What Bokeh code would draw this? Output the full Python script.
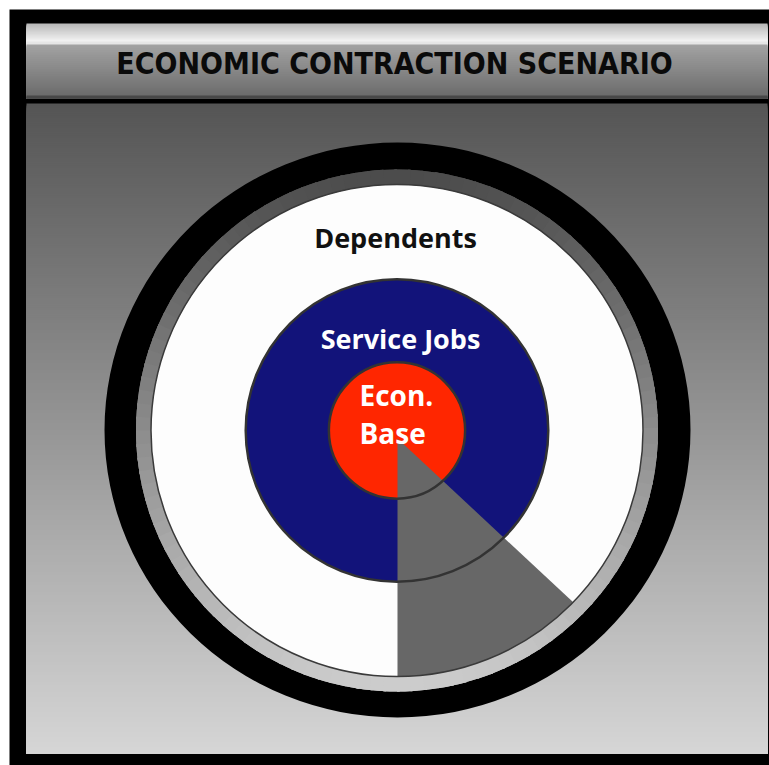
import numpy as np
from bokeh.plotting import figure
from bokeh.models import Range1d
from bokeh.core.properties import value
from bokeh.embed import file_html
from bokeh.resources import INLINE

# ---------------- data ----------------
title_text = "ECONOMIC CONTRACTION SCENARIO"
sectors = ["Dependents", "Service Jobs", "Econ. Base"]
sector_radius = [1.00, 0.615, 0.277]          # relative to the Dependents disk
sector_colors = ["#fdfdfd", "#12137a", "#ff2600"]
label_colors = ["#111111", "#ffffff", "#ffffff"]
contraction_start_deg = 270                   # straight down
contraction_end_deg = 317                     # 43 deg below horizontal (right)
contraction_color = "#676767"

# ---------------- layout (page pixel space) ----------------
W, H = 769, 765
p = figure(width=W, height=H, output_backend="svg", toolbar_location=None,
           x_range=Range1d(0, W), y_range=Range1d(H, 0),
           min_border=0, outline_line_color=None, background_fill_color="white",
           border_fill_color="white")
p.axis.visible = False
p.grid.visible = False

def grey(v):
    v = int(max(0, min(255, round(v))))
    return "#%02x%02x%02x" % (v, v, v)

# black frame
p.quad(left=9, right=800, top=9, bottom=800, fill_color="black", line_color=None)

# title bar gradient (stacked strips, each reaching the bar bottom)
ty = np.arange(23, 98, 1.0)
tcol = []
for y in ty:
    if y < 41:
        t = (y - 23) / 18.0
        tcol.append(grey(0xb8 + t * (0xf6 - 0xb8)))
    elif y < 44:
        tcol.append(grey(0xe6))
    elif y < 95:
        t = (y - 44) / 51.0
        tcol.append(grey(0xa2 + t * (0x6c - 0xa2)))
    else:
        tcol.append(grey(0x48))
p.quad(left=26, right=767, top=ty, bottom=98, fill_color=tcol, line_color=None)

# panel gradient (stacked strips)
py = np.arange(103, 753, 2.0)
pcol = [grey(0x55 + (y - 103) / 650.0 * (0xd6 - 0x55)) for y in py]
p.quad(left=26, right=767, top=py, bottom=753, fill_color=pcol, line_color=None)

# title
p.text(x=[394], y=[63], text=[title_text],
       text_font=value("DejaVu Sans Condensed, Liberation Sans Narrow, Roboto"),
       text_font_style="bold", text_font_size="30px", text_color="#0a0a0a",
       text_align="center", text_baseline="middle")

# ---------------- target rings ----------------
cx, cy = 396.5, 430.0
R = 246.0

# outer black ring
p.ellipse(x=[397], y=[429.5], width=586, height=575, fill_color="black", line_color=None)

# bevelled grey ring (dark at top, light at bottom)
n = 120
a0 = np.arange(n) * 360.0 / n
a1 = a0 + 360.0 / n
mid = np.deg2rad((a0 + a1) / 2)
vv = (1 - np.sin(mid)) / 2
rcol = [grey(0x4c + v * (0xcc - 0x4c)) for v in vv]
p.annular_wedge(x=cx, y=cy, inner_radius=R - 2, outer_radius=R + 15,
                start_angle=np.deg2rad(a0), end_angle=np.deg2rad(a1 + 0.6),
                fill_color=rcol, line_color=None)

# sector disks
for r, c in zip(sector_radius, sector_colors):
    p.circle(x=[cx], y=[cy], radius=R * r, fill_color=c, line_color=None)

# contraction wedge
p.wedge(x=[397], y=[438], radius=R + 6,
        start_angle=[np.deg2rad(contraction_start_deg)],
        end_angle=[np.deg2rad(contraction_end_deg)],
        fill_color=contraction_color, line_color=None)

# re-cover overflow of the wedge with the ring
p.annular_wedge(x=cx, y=cy, inner_radius=R, outer_radius=R + 15,
                start_angle=np.deg2rad(a0), end_angle=np.deg2rad(a1 + 0.6),
                fill_color=rcol, line_color=None)

# outlines
p.circle(x=[cx], y=[cy], radius=R, fill_color=None, line_color="#3a3a3a", line_width=1.5)
for r in sector_radius[1:]:
    p.circle(x=[cx], y=[cy], radius=R * r, fill_color=None, line_color="#333333", line_width=2.5)

# labels
font = value("Open Sans")
p.text(x=[395], y=[237], text=[sectors[0]], text_font=font, text_font_style="bold",
       text_font_size="27px", text_color=label_colors[0], text_align="center",
       text_baseline="alphabetic")
p.text(x=[400], y=[338], text=[sectors[1]], text_font=font, text_font_style="bold",
       text_font_size="27px", text_color=label_colors[1], text_align="center",
       text_baseline="alphabetic")
econ_lines = sectors[2].split(" ")
p.text(x=[359, 359], y=[394, 432], text=econ_lines, text_font=font, text_font_style="bold",
       text_font_size="28px", text_color=label_colors[2], text_align="left",
       text_baseline="alphabetic")

open("out.html", "w").write(file_html(p, INLINE))
